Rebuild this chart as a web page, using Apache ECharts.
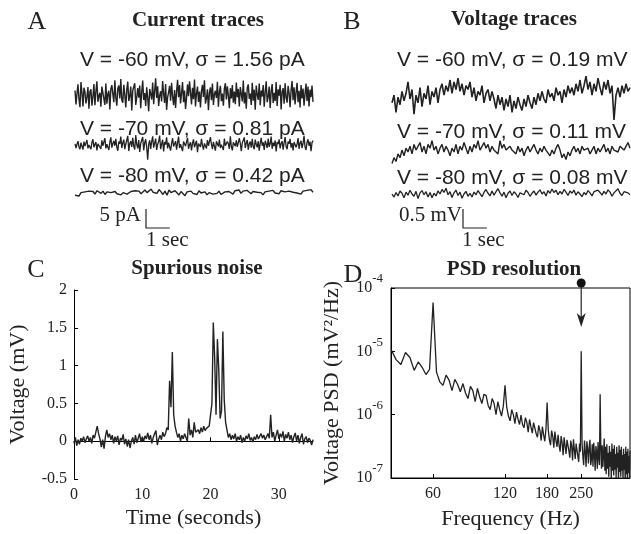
<!DOCTYPE html>
<html>
<head>
<meta charset="utf-8">
<script src="https://cdn.jsdelivr.net/npm/echarts@6/dist/echarts.min.js"></script>
<style>
  html, body { margin: 0; padding: 0; background: #fff; }
  #fig { width: 631px; height: 534px; }
</style>
</head>
<body>
<div id="fig"></div>
<script>
// panel A: current traces (pA), 10 s each
const traceDuration = 10;
const currentM60 = [1.2,-2.5,0.4,2.8,-1.1,-3.2,3.4,0.6,-3.0,1.9,0.8,-2.2,-0.5,2.1,-3.6,0.9,1.5,-2.8,-0.4,2.9,
  -2.7,1.0,3.6,-1.8,-0.2,0.6,-3.1,2.2,2.4,-1.0,-2.6,3.0,-2.3,0.3,1.1,-3.8,1.6,2.6,0.2,-1.9,
  3.9,-0.7,-2.8,1.7,2.5,-0.9,4.2,-1.4,-2.0,2.7,0.1,-3.3,1.4,3.5,-1.6,-0.3,2.2,-4.1,1.2,0.9,
  3.1,-2.6,-0.6,1.8,-0.7,2.5,-3.5,0.8,3.8,-1.3,0.5,-2.9,2.0,-0.8,-4.3,1.6,0.3,-1.2,3.3,-2.4,
  1.1,4.4,-0.8,2.3,-2.9,-0.2,1.0,-1.7,3.7,0.4,-2.1,2.9,-3.9,-0.6,0.7,2.4,-1.5,3.2,-0.4,-2.7,
  1.3,-3.4,0.9,4.0,-0.6,2.6,-2.2,0.5,3.4,-1.9,1.2,-3.7,-0.8,2.8,-0.3,3.6,0.7,-2.5,1.9,-1.1,
  4.1,-3.0,0.4,2.2,-1.8,0.9,-3.3,1.1,2.7,-0.5,3.9,-2.3,-0.9,1.5,-4.0,0.6,2.0,-1.4,3.0,-2.6,
  0.2,1.1,-0.8,3.5,-3.1,0.8,2.4,-1.6,0.4,-2.8,1.7,3.1,-1.2,2.3,-0.2,-3.5,1.8,-0.9,2.6,-2.0,
  0.9,-2.4,3.3,-0.6,1.6,-3.0,2.1,0.3,-1.7,3.8,-2.2,0.7,-3.6,1.9,2.8,-1.0,0.4,-2.6,3.2,-1.5,
  1.4,-3.9,2.5,0.1,-1.3,3.0,-2.7,1.2,-0.4,2.6,-3.1,0.8,3.6,-1.9,-0.5,2.2,-3.4,1.0,2.9,-2.1,
  0.6,-1.6,3.4,-2.9,1.5,-0.2,2.7,-3.8,0.9,1.8,-2.3,3.1,-0.7,-2.0,2.4,0.5,-3.2,1.3,3.7,-1.4,
  2.0,-2.5,0.8,3.2,-1.9,1.1,-3.3,2.6,-0.9,1.7,-2.8,0.3,3.0,-1.6,2.2,-3.0,1.4,-0.6,2.5,-1.8];
const currentM70 = [0.3,-0.8,0.2,1.0,-0.5,-1.1,0.6,0.1,-1.2,0.9,-0.3,0.5,1.3,-0.9,0.0,0.4,-1.1,0.7,1.5,-0.6,
  0.2,0.8,-1.4,0.3,0.7,0.1,-1.0,1.2,-0.2,-0.4,1.8,-0.9,0.2,0.5,-1.3,0.8,2.0,-0.7,0.4,1.1,
  -0.2,1.6,-0.6,-1.5,0.9,0.3,2.2,-0.8,0.6,1.4,-1.1,0.2,0.6,2.4,-1.6,0.4,1.0,-0.5,1.9,-0.3,
  -1.2,2.6,0.1,-0.9,1.3,-1.8,0.4,0.7,2.1,-1.4,0.6,1.5,-0.6,-3.9,0.2,1.2,-1.0,0.9,2.3,-0.7,
  0.5,1.7,-1.3,0.2,0.9,2.5,-1.1,0.3,1.4,-1.7,0.8,0.1,2.0,-0.9,0.6,1.1,-1.5,0.4,1.8,-0.4,
  0.3,1.0,-1.2,0.6,2.2,-0.8,0.2,0.6,-1.6,0.9,1.3,-0.3,0.8,1.9,-1.0,0.1,0.7,-1.4,0.5,1.5,
  -0.6,0.3,1.1,-1.9,0.4,0.9,-0.5,1.6,-0.1,-1.2,0.4,0.8,-0.9,1.3,-0.2,-0.7,2.1,0.2,-1.1,0.8,
  0.3,-1.5,1.0,0.5,-0.4,1.4,-0.8,0.1,0.5,-1.3,1.7,-0.2,-0.6,0.9,0.3,-1.0,2.3,-0.4,-1.4,0.7,
  0.2,-0.3,1.2,-0.5,-0.9,1.8,0.4,-1.6,0.6,0.1,2.0,-0.8,0.5,1.3,-1.2,0.3,0.9,-0.7,1.6,-0.4,
  -1.1,1.4,0.2,-0.6,1.0,-1.5,0.5,1.9,-0.2,0.7,-1.3,1.1,0.3,-0.8,1.7,-0.5,0.4,2.2,-1.0,0.6,
  -0.3,1.2,-1.7,0.8,0.2,1.5,-0.9,0.4,1.0,-1.2,0.6,2.1,-0.4,-1.1,0.9,0.3,1.6,-0.7,0.5,-1.4,
  0.8,1.3,-0.6,0.2,1.8,-1.0,0.5,1.1,-0.8,0.4,2.4,-0.5,-1.3,0.7,1.5,-0.2,0.9,-1.6,0.6,1.2];
const currentM80 = [-0.6,-0.2,-0.8,0.1,-0.4,0.3,-0.2,0.5,0.0,0.4,-0.3,0.6,0.2,-0.1,0.5,-0.4,0.3,0.7,0.1,-0.3,
  0.4,-0.2,0.2,-0.5,0.1,0.3,-0.3,0.0,0.4,-0.1,0.6,0.2,0.5,-0.2,0.3,0.8,0.1,0.6,1.0,0.2,
  0.7,-0.1,0.9,0.3,-0.4,0.5,-0.6,0.8,0.1,-0.3,0.6,0.2,-0.5,0.4,0.0,-0.7,0.3,-0.2,0.5,-0.1,
  0.2,-0.4,0.6,0.0,-0.2,0.3,-0.5,0.1,0.4,-0.3,0.2,-0.1,0.5,-0.4,0.1,0.3,-0.2,0.4,0.0,-0.3,
  0.6,0.2,0.8,-0.1,0.5,0.1,0.7,0.3,-0.2,0.4,0.0,0.2,-0.3,0.1,-0.5,0.3,-0.1,0.5,0.2,0.7,
  0.0,0.4,-0.2,0.6,0.1,0.3,-0.1,0.5,0.8,0.2,0.6,0.0,0.4,-0.3,0.5,0.1,0.7,0.3,0.9,0.2];

// panel B: voltage traces (mV)
const voltageM60 = [-0.1,0.1,-0.35,0.05,-0.15,0.2,-0.05,0.15,0.45,0.0,0.25,
  -0.4,0.1,-0.1,0.3,-0.2,0.15,0.0,0.35,-0.15,0.2,
  0.05,0.3,-0.1,0.25,0.4,0.1,0.35,0.2,0.5,0.15,
  0.45,0.25,0.55,0.2,0.4,0.1,0.35,0.25,0.45,0.05,
  0.3,-0.05,0.2,0.1,0.35,-0.1,0.15,0.25,-0.05,0.2,
  0.0,-0.25,0.1,-0.15,0.05,-0.3,0.0,-0.2,0.1,-0.35,
  -0.05,-0.25,0.05,-0.15,-0.3,0.0,-0.2,0.1,-0.1,-0.25,
  0.05,-0.15,0.15,-0.05,0.2,0.0,-0.1,0.25,0.05,0.15,
  -0.05,0.3,0.1,0.2,-0.1,0.25,0.05,0.35,0.15,0.3,
  0.1,0.4,0.2,0.5,0.15,0.35,0.6,0.25,0.45,0.1,
  0.4,0.2,0.55,0.3,0.1,0.45,0.25,0.5,0.15,0.35,
  -0.55,0.1,0.3,0.05,0.35,0.15,0.4,0.2,0.3];
const voltageM70 = [-0.3,-0.15,-0.25,-0.05,-0.15,0.05,-0.1,0.1,0.0,0.15,-0.05,0.2,0.05,0.1,0.25,0.0,0.15,-0.05,0.2,0.1,
  0.3,0.05,0.15,-0.05,0.1,0.2,0.0,0.15,0.05,-0.1,0.1,0.0,0.2,-0.05,0.15,0.05,0.25,0.1,-0.05,0.15,
  0.0,0.2,0.1,0.3,0.05,0.15,0.25,0.1,0.2,0.0,0.15,0.05,0.1,-0.05,0.3,0.1,0.2,0.05,0.0,0.15,
  0.05,0.1,-0.05,0.15,0.0,0.1,-0.1,0.05,0.15,0.0,0.1,0.2,0.05,-0.05,0.1,0.0,0.15,0.05,0.1,-0.1,
  0.05,-0.05,0.1,0.2,0.05,-0.15,-0.05,-0.2,0.0,-0.1,0.05,0.15,0.0,0.1,-0.05,0.15,0.05,0.0,0.1,-0.05,
  0.05,0.15,-0.05,0.1,0.0,0.05,0.2,0.0,0.1,-0.05,0.15,0.05,0.1,0.0,0.15,0.2,0.05,0.15,0.25,0.1];
const voltageM80 = [0.0,-0.08,0.04,-0.05,0.08,0.02,-0.1,0.05,-0.03,0.1,0.0,-0.06,0.07,-0.12,0.03,0.09,-0.02,0.06,-0.08,0.04,
  -0.1,0.02,-0.05,0.08,0.0,0.12,0.04,0.15,-0.02,0.06,-0.09,0.03,0.1,-0.04,0.05,-0.11,0.0,0.07,-0.06,0.02,
  -0.08,0.05,-0.02,0.09,0.01,-0.07,0.04,0.12,0.02,-0.05,0.08,-0.03,0.06,0.14,0.03,-0.06,0.05,-0.1,0.02,0.08,
  -0.04,0.06,0.0,-0.09,0.03,0.07,-0.02,0.1,0.04,-0.06,0.02,0.08,-0.03,0.05,0.11,0.0,0.06,-0.05,0.09,0.02,
  0.13,0.04,0.1,-0.02,0.07,0.0,0.12,0.05,-0.04,0.08,0.02,0.1,-0.03,0.06,0.0,-0.07,0.04,-0.02,0.09,0.03,
  -0.05,0.06,0.01,0.1,0.04,-0.03,0.07,0.0,0.11,0.05,-0.06,0.03,0.08,0.14,0.02,-0.04,0.06,0.1,0.03,-0.02];

const labelsA = ['V = -60 mV, \u03c3 = 1.56 pA', 'V = -70 mV, \u03c3 = 0.81 pA', 'V = -80 mV, \u03c3 = 0.42 pA'];
const labelsB = ['V = -60 mV, \u03c3 = 0.19 mV', 'V = -70 mV, \u03c3 = 0.11 mV', 'V = -80 mV, \u03c3 = 0.08 mV'];
const scaleA = { amp: 5, time: 1 };   // 5 pA, 1 sec
const scaleB = { amp: 0.5, time: 1 }; // 0.5 mV, 1 sec

// panel C: spurious noise, sampled every 0.2 s over 35 s
const noiseStep = 0.2;
const spuriousNoise = [-0.03,0.05,-0.06,0.02,-0.04,0.04,0.0,0.06,-0.02,0.03,0.07,
  0.0,0.05,-0.03,0.08,0.04,0.12,0.2,0.1,0.03,-0.08,
  0.02,-0.1,0.06,0.15,0.05,0.1,0.02,0.08,-0.03,0.06,
  0.0,0.07,-0.05,0.04,0.01,0.09,-0.04,0.03,-0.07,0.02,
  -0.09,0.0,0.05,-0.04,0.08,-0.02,0.04,0.1,-0.01,0.06,
  0.0,0.07,0.03,0.11,0.02,0.08,-0.03,0.05,0.1,0.14,
  -0.05,0.03,0.08,0.02,0.12,0.06,0.1,0.18,0.15,0.8,
  0.45,1.18,0.35,0.2,0.12,0.05,0.1,0.0,0.08,0.03,
  0.1,0.05,0.0,0.3,0.08,0.15,0.05,0.25,0.12,0.1,
  0.15,0.1,0.18,0.12,0.2,0.14,0.17,0.15,0.2,0.22,
  0.5,1.57,1.1,0.35,1.35,0.95,0.3,0.4,1.45,0.55,
  0.25,0.15,0.05,0.1,0.02,0.08,0.03,0.1,0.0,0.06,
  0.02,0.08,-0.02,0.05,0.0,0.07,0.03,0.1,0.01,0.05,
  -0.01,0.06,0.02,0.09,0.03,0.05,0.1,0.04,0.08,0.02,
  0.06,0.1,0.04,0.35,0.05,0.12,0.0,0.08,0.15,0.03,
  0.1,0.05,0.13,0.0,0.09,0.04,0.12,0.02,0.08,-0.02,
  0.06,0.11,0.0,0.08,-0.03,0.05,0.1,-0.04,0.03,0.06,
  -0.02,0.04,0.01,-0.05,0.02];
const timeTicks = [0, 35, 10];        // min, max, interval
const voltTicks = [-0.5, 2, 0.5];

// panel D: PSD, 40..400 Hz in 2 Hz bins, values in units of 1e-7 mV^2/Hz
const psdStartHz = 40, psdStepHz = 2, psdUnit = 1e-7;
const psd = [108,74,62,96,80,50,68,56,43,52,
  590,
  47,33,29,42,35,24,36,30,23,
  31,22,18,28,24,16,26,19,15,21,
  20,14,12,18,15,10,16,12,9.5,13.5,
  29,
  13,9.5,8,12,10,7.2,11,8.5,7,
  9.8,7,6.2,9,7.6,5.3,8.4,6.4,5.1,7.5,
  7.4,5,4.4,6.8,5.6,3.9,6.5,4.8,3.8,5.9,
  15.5,
  5.8,4,3.3,5.6,4.6,3,5.4,3.9,3.1,
  4.8,3.3,2.6,4.6,3.6,2.3,4.4,3.2,2.4,4.0,
  4.3,2.7,2.1,3.9,3.2,1.9,4.1,2.8,2.0,3.5,
  3.7,2.2,1.8,3.5,2.6,
  100,
  3.6,2.2,1.6,3.9,2.6,1.5,3.8,2.9,1.7,3.1,4.0,1.6,
  2.0,3.4,1.5,3.6,2.4,1.3,3.2,2.6,1.4,3.7,2.1,1.6,
  21,
  3.0,1.4,3.3,1.5,2.4,4.2,1.3,
  3.1,1.15,3.4,1.4,2.5,1.05,3.2,1.5,2.6,0.95,3.5,1.3,
  2.9,1.1,3.3,1.35,2.4,1.0,3.1,1.45,2.5,0.9,3.3,1.25,
  2.8,1.05,3.1,1.3,2.3,0.95,2.9,1.35,2.4,0.85,3.1,1.15,
  2.6,1.0,2.9,1.2,2.2,0.95,2.7];
const freqTicks = [60, 120, 180, 250];
const arrowFreq = 250;

const serif = '"Liberation Serif", "Times New Roman", serif';
const sans = '"Liberation Sans", Arial, sans-serif';
const ink = '#222';

function timed(values, dt) {
  return values.map((v, i) => [i * dt, v]);
}

const chart = echarts.init(document.getElementById('fig'));

// trace grids: [left, top, height, yMin, yMax, lineWidth]
const traceGrids = [
  [75, 76, 38, -5, 5, 1.4],
  [75, 126, 38, -5, 5, 1.3],
  [75, 174, 38, -5, 5, 1.4],
  [392, 72.4, 53.2, -0.7, 0.7, 1.6],
  [392, 133, 38, -0.5, 0.5, 1.4],
  [392, 175, 38, -0.5, 0.5, 1.3]
];
const traceData = [currentM60, currentM70, currentM80, voltageM60, voltageM70, voltageM80];

const grids = [], xAxes = [], yAxes = [], series = [];
traceGrids.forEach((g, i) => {
  grids.push({ left: g[0], top: g[1], width: 238, height: g[2], outerBoundsMode: 'none' });
  xAxes.push({ gridIndex: i, type: 'value', min: 0, max: traceDuration, show: false });
  yAxes.push({ gridIndex: i, type: 'value', min: g[3], max: g[4], show: false });
  const vals = traceData[i];
  series.push({
    type: 'line', xAxisIndex: i, yAxisIndex: i, showSymbol: false, animation: false,
    data: timed(vals, traceDuration / (vals.length - 1)),
    lineStyle: { color: ink, width: g[5] }
  });
});

// panel C
grids.push({ left: 74, top: 290, width: 239, height: 189, outerBoundsMode: 'none' });
xAxes.push({
  gridIndex: 6, type: 'value', min: timeTicks[0], max: timeTicks[1], interval: timeTicks[2],
  axisLine: { lineStyle: { color: '#000', width: 1 } },
  axisTick: { show: true, inside: true, length: 4, lineStyle: { color: '#000' } },
  axisLabel: { fontFamily: serif, fontSize: 16, color: ink, margin: 8, showMaxLabel: false },
  splitLine: { show: false },
  name: 'Time (seconds)', nameLocation: 'middle', nameGap: 28,
  nameTextStyle: { fontFamily: serif, fontSize: 22, color: ink }
});
yAxes.push({
  gridIndex: 6, type: 'value', min: voltTicks[0], max: voltTicks[1], interval: voltTicks[2],
  axisLine: { show: true, lineStyle: { color: '#000', width: 1 } },
  axisTick: { show: true, inside: true, length: 4, lineStyle: { color: '#000' } },
  axisLabel: { fontFamily: serif, fontSize: 16, color: ink, margin: 7 },
  splitLine: { show: false },
  name: 'Voltage (mV)', nameLocation: 'middle', nameGap: 45, nameRotate: 90,
  nameTextStyle: { fontFamily: serif, fontSize: 22, color: ink }
});
series.push({
  type: 'line', xAxisIndex: 6, yAxisIndex: 6, showSymbol: false, animation: false,
  data: timed(spuriousNoise, noiseStep),
  lineStyle: { color: ink, width: 1.4 }
});

// panel D
grids.push({ left: 391, top: 288, width: 239, height: 190, show: true, borderColor: '#000', borderWidth: 1, outerBoundsMode: 'none' });
xAxes.push({
  gridIndex: 7, type: 'log', logBase: 10, min: 40, max: 400,
  axisLine: { lineStyle: { color: '#000', width: 1 } },
  axisTick: { show: true, inside: true, length: 4, customValues: freqTicks, lineStyle: { color: '#000' } },
  axisLabel: { fontFamily: serif, fontSize: 16, color: ink, margin: 8, customValues: freqTicks },
  minorTick: { show: false },
  splitLine: { show: false },
  name: 'Frequency (Hz)', nameLocation: 'middle', nameGap: 30,
  nameTextStyle: { fontFamily: serif, fontSize: 22, color: ink }
});
yAxes.push({
  gridIndex: 7, type: 'log', logBase: 10, min: 1e-7, max: 1e-4,
  axisLine: { show: true, lineStyle: { color: '#000', width: 1 } },
  axisTick: { show: true, inside: true, length: 4, lineStyle: { color: '#000' } },
  axisLabel: {
    margin: 8,
    formatter: v => '{b|10}{s|' + Math.round(Math.log10(v)) + '}',
    rich: {
      b: { fontFamily: serif, fontSize: 16, color: ink },
      s: { fontFamily: serif, fontSize: 13, color: ink, padding: [0, 0, 18, 0] }
    }
  },
  splitLine: { show: false },
  name: 'Voltage PSD (mV\u00b2/Hz)', nameLocation: 'middle', nameGap: 48, nameRotate: 90,
  nameTextStyle: { fontFamily: serif, fontSize: 22, color: ink }
});
series.push({
  type: 'line', xAxisIndex: 7, yAxisIndex: 7, showSymbol: false, animation: false,
  data: psd.map((v, i) => [psdStartHz + i * psdStepHz, v * psdUnit]),
  lineStyle: { color: ink, width: 1.3 }
});

// scale bars, drawn in their own data units
function scaleBar(idx, left, s) {
  grids.push({ left: left, top: 209, width: 23.8, height: 19, outerBoundsMode: 'none' });
  xAxes.push({ gridIndex: idx, type: 'value', min: 0, max: s.time, show: false });
  yAxes.push({ gridIndex: idx, type: 'value', min: 0, max: s.amp, show: false });
  series.push({
    type: 'line', xAxisIndex: idx, yAxisIndex: idx, showSymbol: false, animation: false, clip: false,
    data: [[0, s.amp], [0, 0], [s.time, 0]],
    lineStyle: { color: ink, width: 1.2 }
  });
}
scaleBar(8, 146, scaleA);
scaleBar(9, 463, scaleB);

function txt(id, text, x, y, size, opts) {
  opts = opts || {};
  return {
    type: 'text', id: id, x: x, y: y, silent: true,
    style: {
      text: text, fill: ink,
      font: (opts.bold ? 'bold ' : '') + size + 'px ' + (opts.family || serif),
      align: opts.align || 'center', verticalAlign: 'middle'
    }
  };
}

const graphics = [
  txt('la', 'A', 37, 22, 26),
  txt('ta', 'Current traces', 198, 21, 21, { bold: true }),
  txt('lb', 'B', 352, 22, 26),
  txt('tb', 'Voltage traces', 514, 20, 21, { bold: true }),
  txt('lc', 'C', 36, 270, 26),
  txt('tc', 'Spurious noise', 197, 269, 21, { bold: true }),
  txt('ld', 'D', 353, 275, 26),
  txt('td', 'PSD resolution', 514, 270, 21, { bold: true }),
  txt('sa', '5 pA', 141, 215, 21, { align: 'right' }),
  txt('sat', '1 sec', 146, 240, 21, { align: 'left' }),
  txt('sb', '0.5 mV', 462, 215, 21, { align: 'right' }),
  txt('sbt', '1 sec', 462, 240, 21, { align: 'left' })
];
const labelYA = [60, 129, 176];
const labelYB = [60, 132, 178];
labelsA.forEach((t, i) => graphics.push(txt('va' + i, t, 80, labelYA[i], 21, { align: 'left', family: sans })));
labelsB.forEach((t, i) => graphics.push(txt('vb' + i, t, 397, labelYB[i], 21, { align: 'left', family: sans })));

chart.setOption({
  animation: false,
  backgroundColor: '#fff',
  grid: grids,
  xAxis: xAxes,
  yAxis: yAxes,
  series: series,
  graphic: graphics
});

// arrow marking the PSD bin at 250 Hz
const ax = chart.convertToPixel({ xAxisIndex: 7 }, arrowFreq);
chart.setOption({
  graphic: [
    { type: 'line', id: 'arrowLine', shape: { x1: ax, y1: 283, x2: ax, y2: 320 }, style: { stroke: '#333', lineWidth: 1.3 } },
    { type: 'polygon', id: 'arrowHead', shape: { points: [[ax - 4.5, 313], [ax, 327], [ax + 4.5, 313], [ax, 317]] }, style: { fill: '#222' } },
    { type: 'circle', id: 'arrowDot', shape: { cx: ax, cy: 283, r: 4.5 }, style: { fill: '#111' } }
  ]
});
</script>
</body>
</html>
